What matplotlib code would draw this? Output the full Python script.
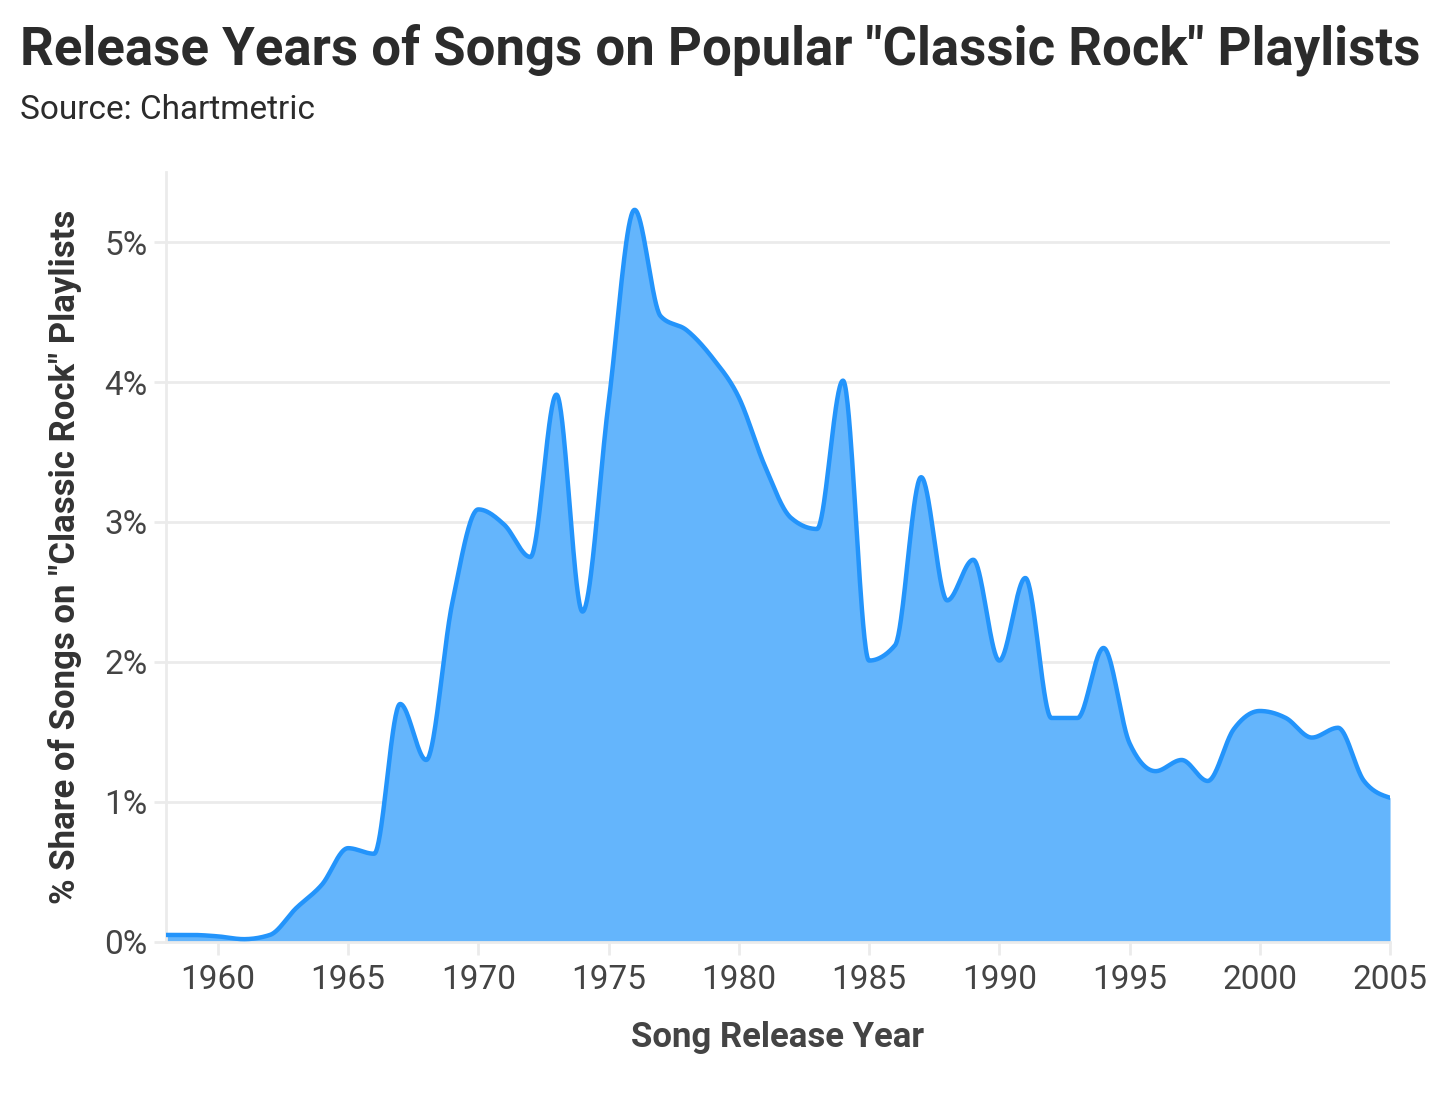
import numpy as np
import matplotlib
matplotlib.use("Agg")
import matplotlib.pyplot as plt
from matplotlib.ticker import FuncFormatter

years = list(range(1958, 2006))
share = [0.05, 0.05, 0.04, 0.02, 0.05, 0.24, 0.41, 0.67, 0.63, 1.70,
         1.30, 2.42, 3.09, 2.98, 2.75, 3.91, 2.36, 3.85, 5.23, 4.47,
         4.37, 4.17, 3.89, 3.40, 3.03, 2.95, 4.01, 2.01, 2.12, 3.32,
         2.44, 2.73, 2.01, 2.60, 1.60, 1.60, 2.10, 1.42, 1.22, 1.30,
         1.15, 1.52, 1.65, 1.60, 1.46, 1.53, 1.15, 1.03]
xticks = [1960, 1965, 1970, 1975, 1980, 1985, 1990, 1995, 2000, 2005]
yticks = [0, 1, 2, 3, 4, 5]

title = 'Release Years of Songs on Popular "Classic Rock" Playlists'
subtitle = "Source: Chartmetric"
xlabel = "Song Release Year"
ylabel = '% Share of Songs on "Classic Rock" Playlists'


def monotone_x(x, y, n=40):
    """d3 curveMonotoneX style interpolation."""
    x = np.asarray(x, float)
    y = np.asarray(y, float)
    h = np.diff(x)
    s = np.diff(y) / h
    m = len(x)
    t = np.zeros(m)
    for i in range(1, m - 1):
        h0, h1 = h[i - 1], h[i]
        s0, s1 = s[i - 1], s[i]
        p = (s0 * h1 + s1 * h0) / (h0 + h1)
        t[i] = (np.sign(s0) + np.sign(s1)) * min(abs(s0), abs(s1), 0.5 * abs(p))
    t[0] = (3 * s[0] - t[1]) / 2
    t[-1] = (3 * s[-1] - t[-2]) / 2
    xs, ys = [], []
    for i in range(m - 1):
        u = np.linspace(0, 1, n, endpoint=False)
        dx = h[i]
        x0, x1 = x[i], x[i + 1]
        y0, y1 = y[i], y[i + 1]
        c0 = (x0, y0)
        c1 = (x0 + dx / 3, y0 + dx / 3 * t[i])
        c2 = (x1 - dx / 3, y1 - dx / 3 * t[i + 1])
        c3 = (x1, y1)
        b0 = (1 - u) ** 3
        b1 = 3 * (1 - u) ** 2 * u
        b2 = 3 * (1 - u) * u ** 2
        b3 = u ** 3
        xs.append(b0 * c0[0] + b1 * c1[0] + b2 * c2[0] + b3 * c3[0])
        ys.append(b0 * c0[1] + b1 * c1[1] + b2 * c2[1] + b3 * c3[1])
    xs.append([x[-1]])
    ys.append([y[-1]])
    return np.concatenate(xs), np.concatenate(ys)


fig = plt.figure(figsize=(14.56, 10.93), dpi=100)
ax = fig.add_axes([0.1138, 0.1382, 0.8409, 0.7044])

xs, ys = monotone_x(years, share)
ax.fill_between(xs, 0, ys, color="#64B5FC", linewidth=0, zorder=2)
ax.plot(xs, ys, color="#2394FB", linewidth=3.2, zorder=3, solid_capstyle="round")

ax.set_xlim(1958, 2005)
ax.set_ylim(0, 5.5)
ax.set_xticks(xticks)
ax.set_yticks(yticks)
ax.yaxis.set_major_formatter(FuncFormatter(lambda v, p: f"{int(v)}%"))

grid_c = "#EBEBEB"
ax.grid(axis="y", color=grid_c, linewidth=2, zorder=1)
ax.set_axisbelow(True)
for side in ["top", "right"]:
    ax.spines[side].set_visible(False)
ax.spines["left"].set_color(grid_c)
ax.spines["left"].set_linewidth(2)
ax.spines["bottom"].set_color(grid_c)
ax.spines["bottom"].set_linewidth(2)
ax.tick_params(axis="x", length=9, width=2, color=grid_c, pad=7,
               labelsize=24, labelcolor="#444444")
ax.tick_params(axis="y", length=9, width=2, color=grid_c, pad=4,
               labelsize=24, labelcolor="#444444")
for lab in ax.get_xticklabels() + ax.get_yticklabels():
    lab.set_fontfamily("Roboto")

ax.set_xlabel(xlabel, fontsize=25, fontweight="bold", color="#444444",
              family="Roboto", labelpad=18)
ax.set_ylabel(ylabel, fontsize=25, fontweight="bold", color="#333333",
              family="Roboto", labelpad=16)

fig.text(20 / 1456, 1 - 50 / 1093, title, fontsize=38, fontweight="bold",
         color="#2b2b2b", family="Roboto", va="center", ha="left")
fig.text(20 / 1456, 1 - 110 / 1093, subtitle, fontsize=24, color="#2b2b2b",
         family="Roboto", va="center", ha="left")

fig.savefig("out.png", dpi=100, facecolor="white")
